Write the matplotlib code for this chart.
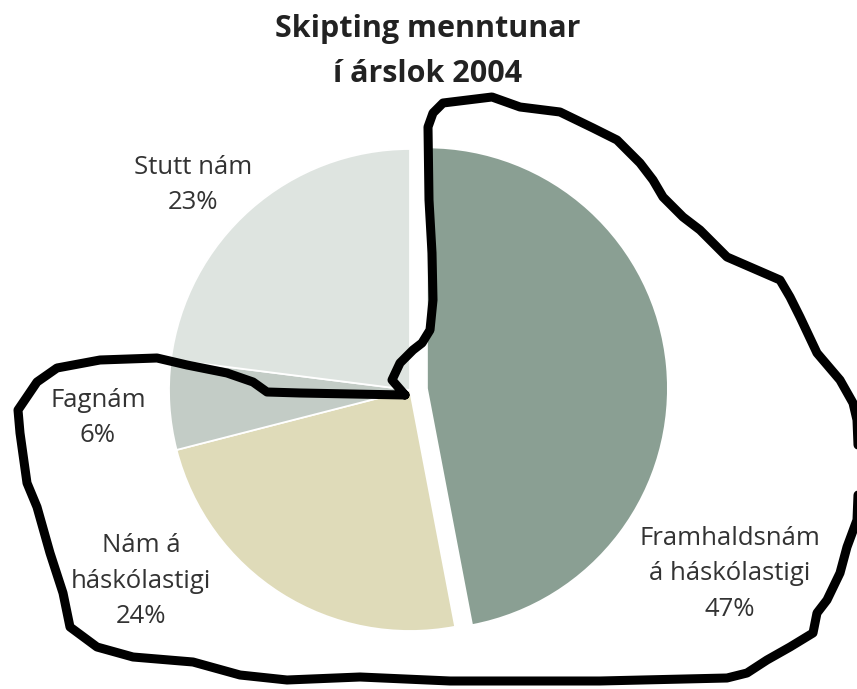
import numpy as np
import matplotlib.pyplot as plt
from matplotlib.lines import Line2D

# --- data
labels = ["Framhaldsnám\ná háskólastigi", "Nám á\nháskólastigi", "Fagnám", "Stutt nám"]
shares = [47, 24, 6, 23]
colors = ["#8a9f93", "#dfdbb9", "#c3ccc6", "#dee4e0"]
explode = [17, 0, 0, 0]   # pixels, only the big slice is pulled out

title_lines = ["Skipting menntunar", "í árslok 2004"]

# label centres in pixel coordinates (x, y from top)
label_pos = [(730, 574), (141, 581), (98, 418), (193, 185)]

# hand drawn outline (pixel coordinates, y from top)
outline = np.array([
    (405, 395), (392, 380), (400, 363), (413, 350), (422, 343), (430, 330),
    (433, 300), (432, 253), (429, 200), (428, 127), (433, 113), (443, 103),
    (492, 97), (520, 107), (560, 112), (593, 128), (617, 140), (640, 163),
    (653, 180), (663, 197), (683, 217), (700, 230), (727, 257), (780, 280),
    (790, 297), (800, 317), (817, 353), (840, 380), (853, 403), (857, 420),
    (859, 470), (857, 520), (847, 547), (840, 573), (827, 600), (817, 613),
    (813, 633), (790, 647), (767, 660), (747, 673), (727, 678), (600, 681),
    (450, 681), (360, 677), (287, 680), (240, 675), (193, 662), (133, 657),
    (97, 647), (70, 627), (63, 593), (50, 553), (37, 507), (27, 483),
    (20, 433), (18, 410), (37, 382), (57, 368), (100, 360), (157, 358),
    (187, 365), (227, 373), (253, 382), (267, 392), (300, 393), (405, 395),
])

W, H = 857, 689
plt.rcParams['font.family'] = ['Open Sans', 'DejaVu Sans']

fig = plt.figure(figsize=(W / 100, H / 100), dpi=100)
ax = fig.add_axes([0, 0, 1, 1])

cx, cy, r = 410, 390, 241
ax.pie(shares, colors=colors, explode=explode, startangle=90, counterclock=False,
       center=(cx, H - cy), radius=r,
       wedgeprops=dict(edgecolor='white', linewidth=1.3))
ax.set_xlim(0, W)
ax.set_ylim(0, H)
ax.set_aspect('equal')
ax.set_axis_off()

for lab, val, (x, y) in zip(labels, shares, label_pos):
    ax.text(x, H - y, f"{lab}\n{val}%", ha='center', va='center',
            fontsize=18.5, color='#333333', linespacing=1.55)

fig.text(428 / W, 1 - 37 / H, title_lines[0], ha='center', va='baseline',
         fontsize=22, fontweight='bold', color='#222222')
fig.text(428 / W, 1 - 82 / H, title_lines[1], ha='center', va='baseline',
         fontsize=22, fontweight='bold', color='#222222')

fig.add_artist(Line2D(outline[:, 0] / W, 1 - outline[:, 1] / H,
                      transform=fig.transFigure, color='black', lw=6.5,
                      solid_joinstyle='round', solid_capstyle='round'))

fig.savefig("out.png", dpi=100, facecolor='white')
